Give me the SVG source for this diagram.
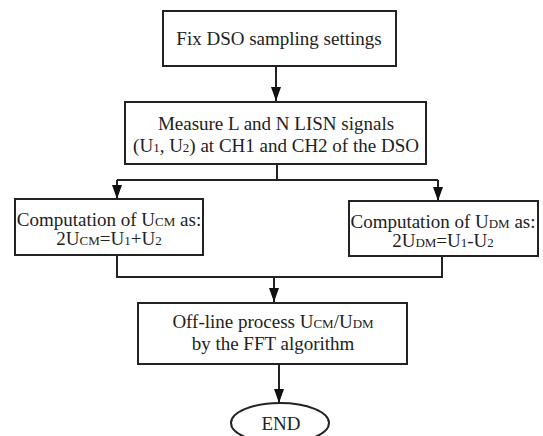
<svg xmlns="http://www.w3.org/2000/svg" width="543" height="436" viewBox="0 0 543 436">
<style>
.box{fill:#fff;stroke:#222;stroke-width:2}
.t{font-family:"Liberation Serif","Times New Roman",serif;font-size:19px;fill:#222;text-anchor:middle}
.s{font-size:13px}
.ln{fill:none;stroke:#222;stroke-width:2}
</style>
<defs>
<marker id="ah" markerWidth="14" markerHeight="10" refX="14" refY="5" orient="auto" markerUnits="userSpaceOnUse" viewBox="0 0 14 10">
<path d="M0,0 L14,5 L0,10 Z" fill="#111"/>
</marker>
</defs>
<rect width="543" height="436" fill="#fff"/>
<g id="connectors">
<line class="ln" x1="276" y1="66" x2="276" y2="101" marker-end="url(#ah)"/>
<polyline class="ln" points="277,164 277,180"/>
<polyline class="ln" points="117,180 438,180"/>
<line class="ln" x1="117" y1="180" x2="117" y2="199" marker-end="url(#ah)"/>
<line class="ln" x1="438" y1="180" x2="438" y2="201" marker-end="url(#ah)"/>
<polyline class="ln" points="117,255 117,277 442,277 442,256"/>
<line class="ln" x1="274" y1="277" x2="274" y2="302" marker-end="url(#ah)"/>
<line class="ln" x1="279" y1="364" x2="279" y2="403" marker-end="url(#ah)"/>
</g>
<g id="n1">
<rect class="box" x="163" y="11" width="233" height="55"/>
<text class="t" x="279" y="45">Fix DSO sampling settings</text>
</g>
<g id="n2">
<rect class="box" x="125" y="102" width="301" height="62"/>
<text class="t" x="276" y="130">Measure L and N LISN signals</text>
<text class="t" x="276" y="152">(U<tspan class="s">1</tspan>, U<tspan class="s">2</tspan>) at CH1 and CH2 of the DSO</text>
</g>
<g id="n3">
<rect class="box" x="15" y="199" width="188" height="56"/>
<text class="t" x="109" y="226">Computation of U<tspan class="s">CM</tspan> as:</text>
<text class="t" x="109" y="245">2U<tspan class="s">CM</tspan>=U<tspan class="s">1</tspan>+U<tspan class="s">2</tspan></text>
</g>
<g id="n4">
<rect class="box" x="349" y="201" width="189" height="55"/>
<text class="t" x="443" y="228">Computation of U<tspan class="s">DM</tspan> as:</text>
<text class="t" x="443" y="247">2U<tspan class="s">DM</tspan>=U<tspan class="s">1</tspan>-U<tspan class="s">2</tspan></text>
</g>
<g id="n5">
<rect class="box" x="138" y="303" width="269" height="61"/>
<text class="t" x="273" y="328">Off-line process U<tspan class="s">CM</tspan>/U<tspan class="s">DM</tspan></text>
<text class="t" x="273" y="350">by the FFT algorithm</text>
</g>
<g id="end">
<ellipse class="box" cx="280" cy="423" rx="49" ry="20"/>
<text class="t" x="281" y="430">END</text>
</g>
</svg>
